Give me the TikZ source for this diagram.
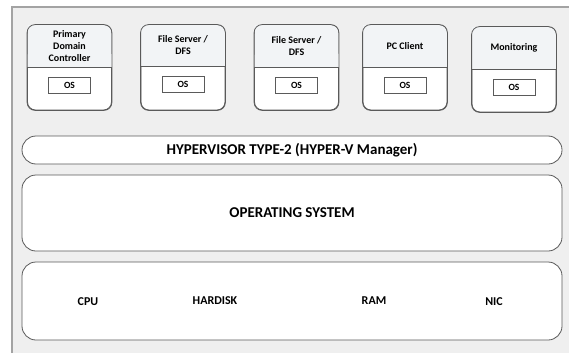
\documentclass[tikz,border=0pt]{standalone}
\usepackage{fontspec}
\setmainfont{Carlito}
\definecolor{panelbg}{HTML}{EFEFEF}
\definecolor{framegray}{HTML}{A3A3A3}
\definecolor{edgegray}{HTML}{5A5A5A}
\definecolor{headtint}{HTML}{F2F4F6}
\begin{document}
\begin{tikzpicture}[x=1pt,y=-1pt,
  vmbox/.style={draw=edgegray, line width=0.8pt, rounded corners=8pt, fill=white,
    minimum width=84pt, minimum height=85pt, inner sep=0pt},
  osbox/.style={draw=edgegray, line width=0.7pt, fill=white,
    minimum width=42pt, minimum height=16pt, inner sep=0pt, font=\bfseries\fontsize{9.5}{10}\selectfont},
  vmtitle/.style={align=center, font=\bfseries\fontsize{10}{12}\selectfont, inner sep=0pt},
  layer/.style={draw=edgegray, line width=0.8pt, fill=white, rounded corners=14pt,
    minimum width=540pt, inner sep=0pt},
  layertext/.style={font=\bfseries\fontsize{15}{17}\selectfont},
  hwlabel/.style={font=\bfseries\fontsize{12}{14}\selectfont, inner sep=0pt}]
  \useasboundingbox (0,0) rectangle (569,353);
  % panel background with its top and left frame lines
  \fill[white] (0,0) rectangle (569,353);
  \fill[panelbg] (12,7) rectangle (569,353);
  \draw[framegray, line width=1.4pt] (12,353) -- (12,7) -- (569,7);

  % virtual machines: name, centre x, top y, divider y, title
  \foreach \nm/\cx/\ty/\dy/\ttl in {
      pdc/69.5/25/67/{Primary\\Domain\\Controller},
      fsa/183/25/66/{File Server /\\DFS},
      fsb/296.5/25/67/{File Server /\\DFS},
      pcc/405/25/67/{PC Client},
      mon/514/27/69/{Monitoring}} {
    \node[vmbox] (\nm) at (\cx,\ty+42.5) {};
    \fill[headtint, rounded corners=7.5pt] ([xshift=0.5pt,yshift=-0.5pt]\nm.north west)
      -- ([xshift=-0.5pt,yshift=-0.5pt]\nm.north east) [sharp corners] -- (\nm.east |- 0,\dy)
      -- (\nm.west |- 0,\dy) -- cycle;
    \draw[edgegray, line width=0.8pt, rounded corners=8pt] (\nm.north west) rectangle (\nm.south east);
    \draw[edgegray, line width=0.9pt] (\nm.west |- 0,\dy) -- (\nm.east |- 0,\dy);
    \node[vmtitle] (\nm-t) at (\cx,{(\ty+\dy)/2}) {\ttl};
    \node[osbox] (\nm-os) at (\cx,\dy+18) {OS};
  }

  % host layers
  \node[layer, minimum height=28pt] (hyp) at (292,150)
    {\bfseries\fontsize{15}{17}\selectfont HYPERVISOR TYPE-2 (HYPER-V Manager)};
  \node[layer, minimum height=76pt] (os) at (292,213)
    {\bfseries\fontsize{15}{17}\selectfont OPERATING SYSTEM};
  \node[layer, minimum height=78pt] (hw) at (292,301) {};
  \node[hwlabel] (cpu) at (88,302) {CPU};
  \node[hwlabel] (disk) at (215,301) {HARDISK};
  \node[hwlabel] (ram) at (374,301) {RAM};
  \node[hwlabel] (nic) at (494,302) {NIC};
\end{tikzpicture}
\end{document}
